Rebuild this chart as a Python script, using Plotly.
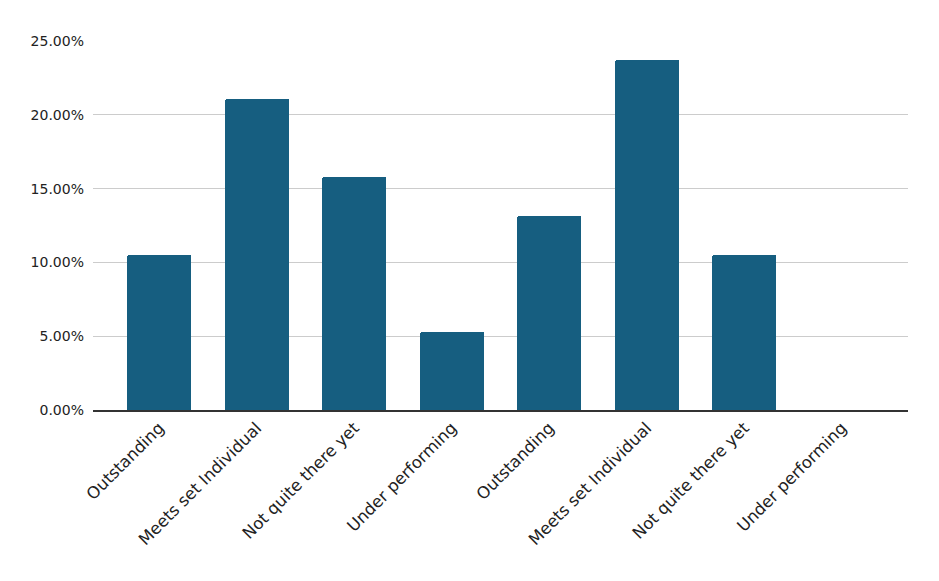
import plotly.graph_objects as go

categories = ["Outstanding", "Meets set Individual", "Not quite there yet", "Under performing",
              "Outstanding", "Meets set Individual", "Not quite there yet", "Under performing"]
values = [4/38, 8/38, 6/38, 2/38, 5/38, 9/38, 4/38, 0.0]
y_ticks = [0, 0.05, 0.10, 0.15, 0.20, 0.25]
y_tick_labels = ["0.00%", "5.00%", "10.00%", "15.00%", "20.00%", "25.00%"]

x_pos = list(range(len(categories)))

fig = go.Figure(go.Bar(
    x=x_pos, y=values, width=0.656,
    marker=dict(color="#165E80", line=dict(width=0), cornerradius=2),
))

fig.update_layout(
    width=939, height=581,
    margin=dict(l=85, r=39, t=33, b=179),
    paper_bgcolor="white", plot_bgcolor="white",
    font=dict(family="DejaVu Sans", size=14, color="#222222"),
    showlegend=False,
    bargap=0,
)
fig.update_xaxes(
    tickmode="array", tickvals=x_pos, ticktext=categories,
    range=[-0.68, 7.68], tickangle=-45, showgrid=False,
    showline=True, linecolor="#333333", linewidth=1.5,
    ticks="", tickfont=dict(size=16.5),
)
fig.update_yaxes(
    tickmode="array", tickvals=y_ticks, ticktext=y_tick_labels,
    range=[0, 0.25], showgrid=True, gridcolor="#cccccc", gridwidth=1,
    zeroline=False, showline=False, ticks="", ticklabelstandoff=8,
    tickfont=dict(size=14),
)

fig.write_html("out.html")
